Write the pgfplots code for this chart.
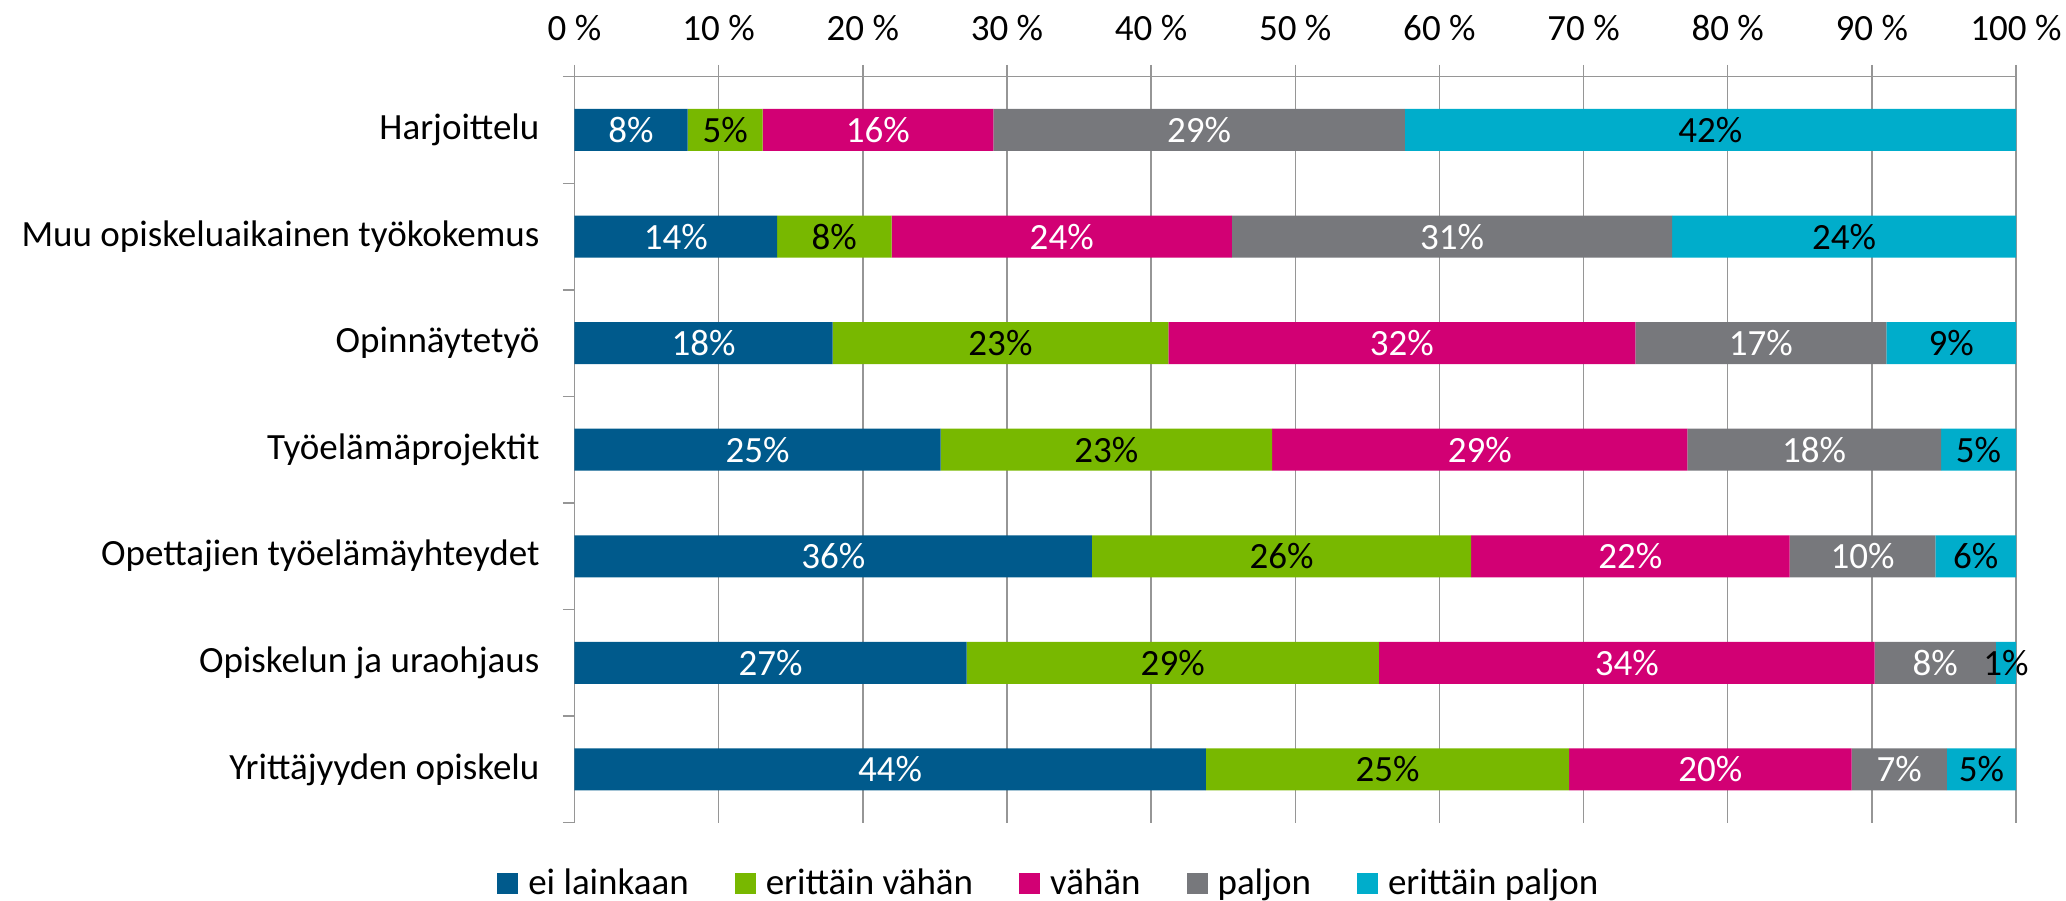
\documentclass[border=0pt]{standalone}
\usepackage{fontspec}
\setmainfont{Carlito}
\usepackage{pgfplots}
\usepackage{pgfplotstable}
\pgfplotsset{compat=1.18}

\definecolor{c1}{RGB}{0,90,140}
\definecolor{c2}{RGB}{120,184,0}
\definecolor{c3}{RGB}{210,0,116}
\definecolor{c4}{RGB}{119,120,124}
\definecolor{c5}{RGB}{0,173,203}
\definecolor{gridgray}{RGB}{150,150,150}

% y = row (6 = top), a..e = segment shares in percent
\pgfplotstableread{
y a     b     c     d     e
6 7.85  5.2   16.0  28.55 42.4
5 14.05 7.95  23.6  30.55 23.85
4 17.9  23.3  32.4  17.4  9.0
3 25.4  23.0  28.8  17.6  5.2
2 35.9  26.3  22.1  10.1  5.6
1 27.2  28.6  34.4  8.4   1.4
0 43.8  25.2  19.6  6.6   4.8
}\data

\pgfplotsset{
  seg/.style={
    draw=none, fill=#1,
  },
  segval/.style={
    visualization depends on={\thisrow{#1}\as\segval},
  },
}

\begin{document}
\begin{tikzpicture}[font=\fontsize{18.5}{22.2}\selectfont]
\begin{axis}[
  scale only axis, width=720.75pt, height=373pt,
  xbar stacked, bar width=21pt,
  xmin=0, xmax=100, ymin=-0.5, ymax=6.5,
  axis x line*=top, axis y line*=left,
  axis line style={gridgray, line width=0.75pt},
  xtick={0,10,...,100},
  xticklabel={\pgfmathprintnumber{\tick}~\%},
  xticklabel style={yshift=8.5pt},
  /pgf/number format/assume math mode=true,
  xmajorgrids, grid style={gridgray, line width=0.75pt},
  tick align=outside, major tick length=5.85pt,
  tick style={gridgray, line width=0.75pt},
  ytick={-0.5,0.5,...,6.5}, yticklabel={\mbox{}},
  extra y ticks={0,1,2,3,4,5,6},
  extra y tick labels={Yrittäjyyden opiskelu, Opiskelun ja uraohjaus, Opettajien työelämäyhteydet, Työelämäprojektit, Opinnäytetyö, Muu opiskeluaikainen työkokemus, Harjoittelu},
  extra y tick style={major tick length=0pt},
  yticklabel style={xshift=-14pt},
  nodes near coords={\pgfmathprintnumber[fixed,precision=0]{\segval}\%},
  every node near coord/.append style={anchor=center},
  legend columns=5,
  legend style={at={(0.3287,-0.0815)}, anchor=center, draw=none, fill=none,
    nodes={inner xsep=0.5pt, inner ysep=2pt},
    /tikz/every odd column/.append style={column sep=4.5pt},
    /tikz/every even column/.append style={column sep=22.5pt}},
  legend image code/.code={\fill[#1] (0pt,-5.25pt) rectangle (10.5pt,5.25pt);},
]
\addplot[seg=c1, segval=a, every node near coord/.append style={text=white}] table[x=a, y=y] {\data};
\addlegendentry{ei lainkaan}
\addplot[seg=c2, segval=b, every node near coord/.append style={text=black}] table[x=b, y=y] {\data};
\addlegendentry{erittäin vähän}
\addplot[seg=c3, segval=c, every node near coord/.append style={text=white}] table[x=c, y=y] {\data};
\addlegendentry{vähän}
\addplot[seg=c4, segval=d, every node near coord/.append style={text=white}] table[x=d, y=y] {\data};
\addlegendentry{paljon}
\addplot[seg=c5, segval=e, every node near coord/.append style={text=black}] table[x=e, y=y] {\data};
\addlegendentry{erittäin paljon}
\end{axis}
\pgfresetboundingbox
\path[use as bounding box] (-287.25pt,-38.65pt) rectangle (745.75pt,411.35pt);
\end{tikzpicture}
\end{document}
